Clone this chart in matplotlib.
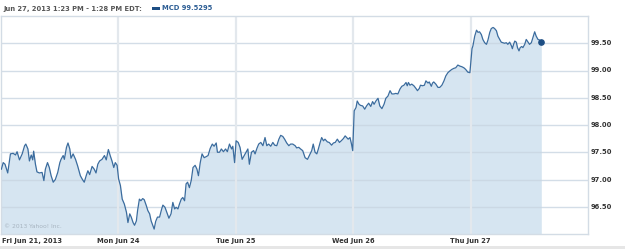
import matplotlib
matplotlib.use("Agg")
import matplotlib.pyplot as plt
from matplotlib.patches import Rectangle

# ---- data: minutes after the 9:30 open, and MCD price ----
fri_min = [3, 9, 15, 24, 33, 42, 50, 55, 63, 72, 80, 84, 91, 96, 102, 107, 110, 116, 121, 129,
           138, 144, 149, 156, 162, 168, 175, 182, 190, 197, 201, 208, 212, 219, 224, 230, 234,
           241, 249, 256, 265, 272, 278, 285, 290, 296, 304, 311, 317, 323, 329, 337, 345, 351,
           358, 364, 370, 376, 381, 387]
fri_px = [97.19, 97.31, 97.28, 97.12, 97.47, 97.48, 97.45, 97.51, 97.36, 97.47, 97.62, 97.65,
          97.56, 97.34, 97.45, 97.36, 97.52, 97.28, 97.14, 97.12, 97.13, 96.98, 97.19, 97.31,
          97.22, 97.07, 96.95, 97.00, 97.13, 97.31, 97.37, 97.44, 97.37, 97.59, 97.67, 97.56,
          97.39, 97.47, 97.37, 97.25, 97.07, 97.00, 96.95, 97.08, 97.16, 97.09, 97.24, 97.19,
          97.12, 97.28, 97.34, 97.37, 97.44, 97.36, 97.55, 97.44, 97.34, 97.22, 97.31, 97.26]

mon_min = [2, 8, 14, 21, 28, 33, 39, 44, 50, 55, 61, 65, 71, 76, 82, 87, 94, 99, 105, 110, 116,
           120, 125, 131, 138, 145, 149, 156, 162, 169, 176, 182, 188, 193, 199, 204, 210, 215,
           221, 226, 231, 237, 243, 249, 256, 262, 267, 273, 279, 286, 293, 299, 306, 313, 319,
           326, 330, 337, 343, 350, 357, 363, 370, 377, 381, 387]
mon_px = [97.01, 96.89, 96.64, 96.55, 96.40, 96.21, 96.37, 96.31, 96.21, 96.16, 96.24, 96.43,
          96.64, 96.61, 96.65, 96.63, 96.52, 96.43, 96.37, 96.24, 96.15, 96.09, 96.23, 96.31,
          96.31, 96.46, 96.53, 96.49, 96.40, 96.29, 96.37, 96.58, 96.46, 96.49, 96.46, 96.55,
          96.64, 96.67, 96.61, 96.92, 96.95, 96.85, 96.98, 97.22, 97.26, 97.19, 97.07, 97.31,
          97.47, 97.40, 97.42, 97.44, 97.57, 97.65, 97.61, 97.67, 97.50, 97.50, 97.56, 97.51,
          97.56, 97.51, 97.65, 97.56, 97.61, 97.31]

tue_min = [2, 9, 15, 22, 29, 35, 41, 46, 53, 60, 65, 71, 77, 84, 91, 98, 104, 110, 117, 124,
           130, 137, 144, 150, 157, 163, 170, 177, 183, 190, 198, 203, 210, 216, 223, 231, 239,
           245, 253, 258, 264, 270, 275, 281, 286, 292, 297, 305, 311, 319, 325, 331, 338, 345,
           351, 358, 364, 369, 374, 380, 385, 389]
tue_px = [97.71, 97.68, 97.59, 97.37, 97.44, 97.50, 97.56, 97.28, 97.50, 97.53, 97.47, 97.57,
          97.65, 97.68, 97.62, 97.77, 97.62, 97.65, 97.61, 97.68, 97.63, 97.62, 97.74, 97.81,
          97.79, 97.74, 97.67, 97.62, 97.65, 97.65, 97.62, 97.58, 97.59, 97.56, 97.53, 97.40,
          97.37, 97.44, 97.53, 97.65, 97.50, 97.47, 97.56, 97.68, 97.77, 97.71, 97.74, 97.69,
          97.68, 97.63, 97.67, 97.68, 97.74, 97.68, 97.71, 97.75, 97.80, 97.77, 97.74, 97.77,
          97.65, 97.53]

wed_min = [4, 10, 14, 20, 25, 32, 39, 45, 52, 59, 65, 70, 76, 83, 89, 96, 103, 109, 116, 123,
           129, 136, 142, 149, 156, 162, 169, 176, 180, 184, 189, 195, 202, 209, 214, 220, 224,
           231, 237, 242, 249, 253, 260, 264, 268, 275, 282, 288, 295, 302, 308, 315, 321, 328,
           335, 341, 348, 355, 361, 368, 374, 381, 388]
wed_px = [98.26, 98.32, 98.44, 98.38, 98.36, 98.35, 98.29, 98.35, 98.40, 98.34, 98.43, 98.38,
          98.44, 98.49, 98.35, 98.30, 98.38, 98.49, 98.53, 98.63, 98.57, 98.57, 98.58, 98.57,
          98.66, 98.71, 98.73, 98.78, 98.72, 98.78, 98.73, 98.75, 98.72, 98.67, 98.63, 98.67,
          98.73, 98.72, 98.73, 98.81, 98.77, 98.79, 98.71, 98.77, 98.79, 98.75, 98.69, 98.69,
          98.73, 98.81, 98.90, 98.96, 98.99, 99.02, 99.04, 99.05, 99.10, 99.08, 99.07, 99.05,
          99.02, 98.97, 98.96]

thu_min = [5, 8, 14, 20, 25, 30, 36, 41, 47, 53, 58, 64, 69, 75, 80, 86, 91, 97, 102, 108, 113,
           119, 124, 130, 136, 139, 143, 147, 152, 156, 161, 165, 170, 174, 180, 185, 191, 196,
           202, 207, 213, 218, 224, 229, 235]
thu_px = [99.40, 99.45, 99.63, 99.74, 99.70, 99.71, 99.66, 99.57, 99.51, 99.48, 99.56, 99.70,
          99.77, 99.79, 99.77, 99.73, 99.63, 99.57, 99.52, 99.51, 99.50, 99.51, 99.48, 99.52,
          99.45, 99.40, 99.48, 99.54, 99.52, 99.42, 99.36, 99.42, 99.44, 99.42, 99.48, 99.57,
          99.52, 99.48, 99.51, 99.60, 99.71, 99.63, 99.57, 99.56, 99.5295]

day_labels = ["Fri Jun 21, 2013", "Mon Jun 24", "Tue Jun 25", "Wed Jun 26", "Thu Jun 27"]
y_ticks = [96.5, 97.0, 97.5, 98.0, 98.5, 99.0, 99.5]
y_ticklabels = ["96.50", "97.00", "97.50", "98.00", "98.50", "99.00", "99.50"]
header_text = "Jun 27, 2013 1:23 PM - 1:28 PM EDT:"
legend_text = "MCD 99.5295"
session_minutes = 390

# ---- build series ----
days = [(fri_min, fri_px), (mon_min, mon_px), (tue_min, tue_px), (wed_min, wed_px), (thu_min, thu_px)]
xs, ys = [], []
for i, (mins, px) in enumerate(days):
    for m, p in zip(mins, px):
        xs.append(i + m / session_minutes)
        ys.append(p)

W, H = 625, 249
fig = plt.figure(figsize=(W / 100, H / 100), dpi=100)
fig.patch.set_facecolor("white")

left, right, top, bottom = 0.5, 588, 16, 234
ax = fig.add_axes([left / W, 1 - bottom / H, (right - left) / W, (bottom - top) / H])
ax.set_xlim(0, 5)
ax.set_ylim(96.0, 100.0)

ax.fill_between(xs, ys, 96.0, color="#d6e5f1", lw=0, zorder=1)
for yv in y_ticks:
    ax.axhline(yv, color="#c9d5e1", lw=1.0, alpha=0.8, zorder=2)
for d in range(1, 5):
    ax.axvline(d, color="#e3e8ed", lw=1.6, zorder=2)
ax.plot(xs, ys, color="#3b6c9e", lw=0.9, zorder=3, solid_joinstyle="round")
ax.plot([xs[-1]], [ys[-1]], "o", color="#1d4e84", ms=3.8, zorder=4)

for s in ax.spines.values():
    s.set_color("#d3dce5")
    s.set_linewidth(1.0)
ax.set_xticks([])
ax.set_yticks([])

tick_color = "#333333"
fs = 4.9
for yv, lab in zip(y_ticks, y_ticklabels):
    ax.text(1.005, (yv - 96.0) / 4.0, lab, transform=ax.transAxes, ha="left", va="center",
            fontsize=fs, fontweight="bold", color=tick_color)

ylab = 1 - 241 / H
for i, lab in enumerate(day_labels):
    if i == 0:
        fig.text(2 / W, ylab, lab, ha="left", va="center", fontsize=fs, fontweight="bold", color=tick_color)
    else:
        xp = (left + i / 5 * (right - left)) / W
        fig.text(xp, ylab, lab, ha="center", va="center", fontsize=fs, fontweight="bold", color=tick_color)

# watermark
ax.text(4 / (right - left), (bottom - 226) / (bottom - top), "\u00a9 2013 Yahoo! Inc.",
        transform=ax.transAxes, ha="left", va="center", fontsize=4.3, color="#a7b4c0", zorder=5)

# header
fig.text(3 / W, 1 - 8.5 / H, header_text, ha="left", va="center", fontsize=fs,
         fontweight="bold", color="#555555")
fig.patches.append(Rectangle((152 / W, 1 - 10 / H), 8 / W, 3 / H, transform=fig.transFigure,
                             facecolor="#1d4e84", edgecolor="none"))
fig.text(162 / W, 1 - 8.5 / H, legend_text, ha="left", va="center", fontsize=fs,
         fontweight="bold", color="#2c5d94")

# bottom grey band
fig.patches.append(Rectangle((0, 0), 1, 3 / H, transform=fig.transFigure,
                             facecolor="#e6e6e6", edgecolor="none"))

fig.savefig("out.png", dpi=100, facecolor="white")
